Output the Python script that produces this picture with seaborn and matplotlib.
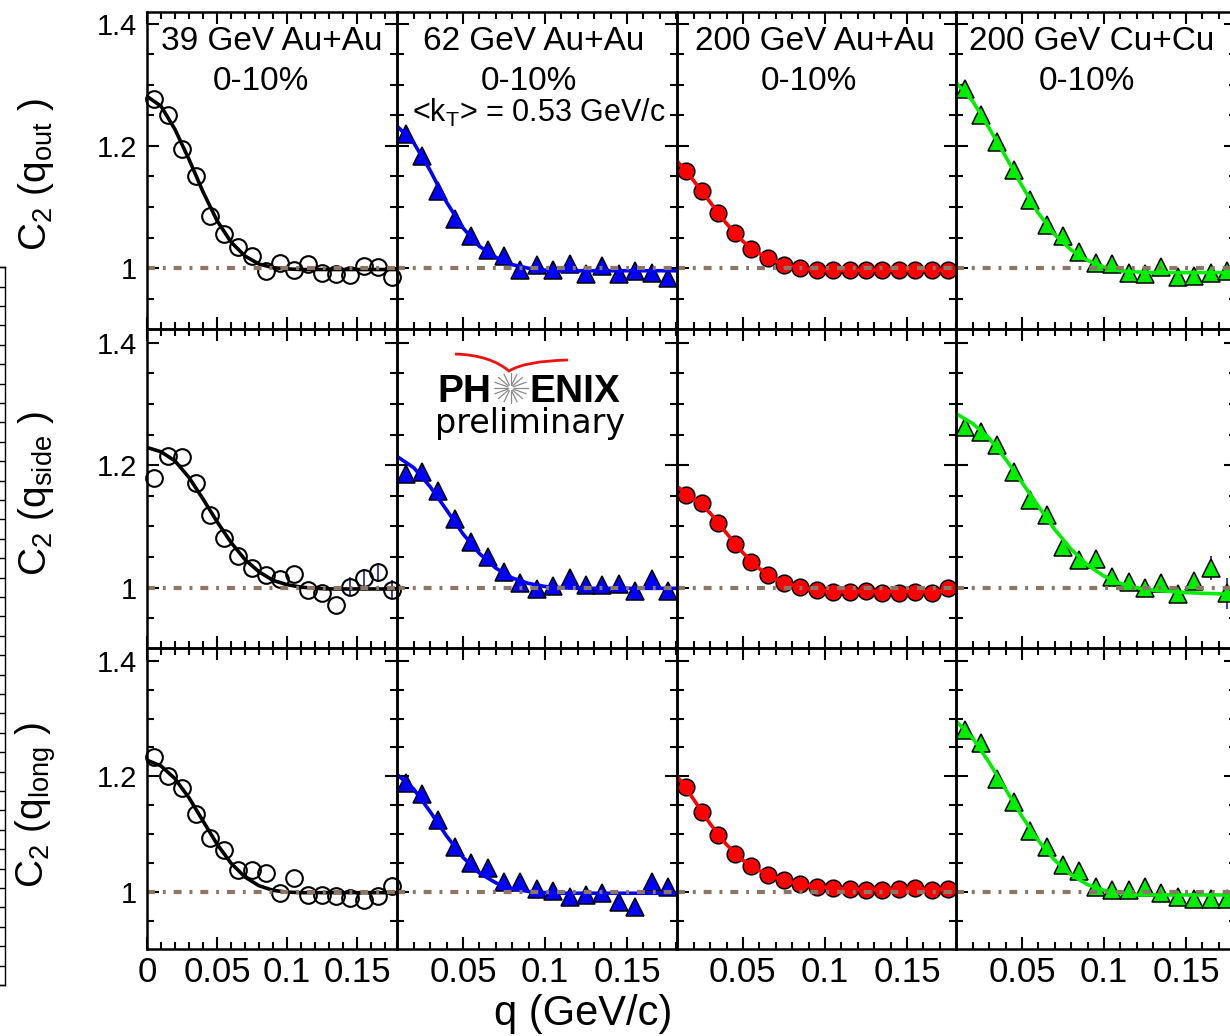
import numpy as np
import matplotlib
matplotlib.use("Agg")
import matplotlib.pyplot as plt
import seaborn as sns
from matplotlib.ticker import MultipleLocator, FuncFormatter
from matplotlib.lines import Line2D
from matplotlib.path import Path
from matplotlib.patches import PathPatch

sns.set_theme(style="white")
plt.rcParams['font.family'] = ['Liberation Sans', 'DejaVu Sans']
plt.rcParams['mathtext.fontset'] = 'custom'
plt.rcParams['mathtext.rm'] = 'Liberation Sans'
plt.rcParams['mathtext.it'] = 'Liberation Sans:italic'
plt.rcParams['mathtext.bf'] = 'Liberation Sans:bold'
plt.rcParams['text.color'] = 'black'

# ---------------- data ----------------
systems = ["39 GeV Au+Au", "62 GeV Au+Au", "200 GeV Au+Au", "200 GeV Cu+Cu"]
centrality = "0-10%"
kt_label = r"<k$_{\mathrm{T}}$> = 0.53 GeV/c"
components = ["out", "side", "long"]

q_39 = [0.005, 0.015, 0.025, 0.035, 0.045, 0.055, 0.065, 0.075, 0.085,
        0.095, 0.105, 0.115, 0.125, 0.135, 0.145, 0.155, 0.165, 0.175]
q_other = [0.015, 0.025, 0.035, 0.045, 0.055, 0.065, 0.075, 0.085,
           0.095, 0.105, 0.115, 0.125, 0.135, 0.145, 0.155, 0.165, 0.175]
qfit_39 = [0.0, 0.01, 0.02, 0.03, 0.04, 0.05, 0.06, 0.07, 0.08, 0.09,
           0.10, 0.11, 0.12, 0.13, 0.14, 0.15, 0.16, 0.17, 0.18]
qfit_other = [0.01, 0.02, 0.03, 0.04, 0.05, 0.06, 0.07, 0.08, 0.09,
              0.10, 0.11, 0.12, 0.13, 0.14, 0.15, 0.16, 0.17, 0.18]

# 39 GeV Au+Au
c39_out = [1.277, 1.251, 1.195, 1.151, 1.086, 1.056, 1.034, 1.020, 0.995,
           1.009, 0.998, 1.007, 0.993, 0.991, 0.989, 1.003, 1.002, 0.986]
c39_side = [1.179, 1.215, 1.214, 1.171, 1.119, 1.081, 1.052, 1.032, 1.021,
            1.015, 1.022, 0.997, 0.992, 0.971, 1.002, 1.016, 1.025, 0.997]
c39_long = [1.233, 1.201, 1.180, 1.135, 1.094, 1.073, 1.039, 1.039, 1.033,
            0.998, 1.025, 0.995, 0.995, 0.993, 0.990, 0.987, 0.994, 1.010]
fit39_out = [1.281, 1.265, 1.227, 1.178, 1.125, 1.078, 1.043, 1.020, 1.007, 1.001,
             0.999, 0.998, 0.998, 0.998, 0.998, 0.998, 0.998, 0.998, 0.998]
fit39_side = [1.229, 1.222, 1.207, 1.180, 1.145, 1.108, 1.074, 1.046, 1.026, 1.012,
              1.005, 1.001, 0.999, 0.998, 0.998, 0.998, 0.998, 0.998, 0.998]
fit39_long = [1.228, 1.218, 1.196, 1.163, 1.123, 1.083, 1.050, 1.026, 1.011, 1.003,
              1.000, 0.999, 0.999, 0.999, 0.999, 0.999, 0.999, 0.999, 0.999]
err39_side = [0, 0, 0, 0, 0, 0, 0, 0, 0, 0, 0, 0, 0, 0, 0.015, 0.015, 0.016, 0.016]

# 62 GeV Au+Au
c62_out = [1.219, 1.183, 1.127, 1.081, 1.052, 1.030, 1.020, 0.998, 1.005,
           0.998, 1.007, 0.990, 1.003, 0.991, 0.996, 0.993, 0.984]
c62_side = [1.186, 1.189, 1.158, 1.112, 1.075, 1.050, 1.026, 1.008, 0.998,
            1.003, 1.016, 1.005, 1.005, 1.006, 0.995, 1.015, 0.994]
c62_long = [1.189, 1.169, 1.124, 1.078, 1.051, 1.041, 1.017, 1.017, 1.006,
            1.001, 0.991, 0.995, 0.999, 0.983, 0.974, 1.017, 1.009]
fit62_out = [1.232, 1.205, 1.160, 1.108, 1.066, 1.036, 1.018, 1.006, 1.000,
             0.997, 0.996, 0.996, 0.996, 0.996, 0.996, 0.996, 0.996, 0.996]
fit62_side = [1.214, 1.196, 1.165, 1.127, 1.088, 1.056, 1.032, 1.016, 1.007,
              1.002, 1.000, 0.999, 0.999, 0.999, 0.999, 0.999, 0.999, 0.999]
fit62_long = [1.203, 1.178, 1.139, 1.097, 1.060, 1.033, 1.016, 1.006, 1.001,
              0.999, 0.998, 0.998, 0.998, 0.998, 0.998, 0.998, 0.998, 0.998]

# 200 GeV Au+Au
c200_out = [1.159, 1.127, 1.090, 1.058, 1.031, 1.017, 1.005, 1.000, 0.998,
            0.997, 0.997, 0.997, 0.997, 0.997, 0.997, 0.997, 0.997]
c200_side = [1.151, 1.138, 1.106, 1.072, 1.042, 1.021, 1.008, 1.002, 0.996,
             0.993, 0.993, 0.995, 0.992, 0.992, 0.993, 0.992, 0.999]
c200_long = [1.181, 1.139, 1.099, 1.066, 1.045, 1.030, 1.021, 1.014, 1.009,
             1.007, 1.005, 1.004, 1.004, 1.005, 1.007, 1.004, 1.006]
fit200_out = [1.175, 1.143, 1.108, 1.073, 1.044, 1.024, 1.011, 1.003, 0.999,
              0.997, 0.997, 0.997, 0.997, 0.997, 0.997, 0.997, 0.997, 0.997]
fit200_side = [1.165, 1.145, 1.122, 1.089, 1.057, 1.031, 1.014, 1.004, 0.998,
               0.995, 0.994, 0.994, 0.994, 0.994, 0.994, 0.994, 0.994, 0.994]
fit200_long = [1.200, 1.160, 1.118, 1.082, 1.055, 1.037, 1.025, 1.017, 1.011,
               1.008, 1.006, 1.005, 1.005, 1.005, 1.005, 1.005, 1.005, 1.005]

# 200 GeV Cu+Cu
cu_out = [1.293, 1.251, 1.206, 1.160, 1.111, 1.071, 1.053, 1.027, 1.008,
          1.007, 0.993, 0.991, 1.002, 0.985, 0.987, 0.993, 0.995]
cu_side = [1.263, 1.255, 1.233, 1.189, 1.143, 1.118, 1.066, 1.046, 1.047,
           1.017, 1.010, 0.999, 1.007, 0.990, 1.011, 1.032, 0.991]
cu_long = [1.281, 1.258, 1.195, 1.155, 1.105, 1.078, 1.047, 1.036, 1.009,
           1.003, 1.003, 1.009, 0.999, 0.991, 0.988, 0.988, 0.988]
fitcu_out = [1.303, 1.273, 1.229, 1.183, 1.135, 1.090, 1.055, 1.030, 1.013,
             1.002, 0.996, 0.994, 0.993, 0.993, 0.993, 0.993, 0.993, 0.993]
fitcu_side = [1.284, 1.268, 1.244, 1.210, 1.172, 1.133, 1.095, 1.063, 1.037,
              1.019, 1.007, 1.000, 0.996, 0.994, 0.992, 0.991, 0.990, 0.989]
fitcu_long = [1.295, 1.266, 1.224, 1.178, 1.131, 1.089, 1.055, 1.030, 1.013,
              1.003, 0.998, 0.995, 0.995, 0.995, 0.995, 0.995, 0.995, 0.995]
errcu_side = [0, 0, 0, 0, 0, 0, 0, 0, 0, 0, 0, 0, 0, 0, 0, 0.02, 0.025]

q_data = [q_39, q_other, q_other, q_other]
q_fits = [qfit_39, qfit_other, qfit_other, qfit_other]
values = [[c39_out, c62_out, c200_out, cu_out],
          [c39_side, c62_side, c200_side, cu_side],
          [c39_long, c62_long, c200_long, cu_long]]
fits = [[fit39_out, fit62_out, fit200_out, fitcu_out],
        [fit39_side, fit62_side, fit200_side, fitcu_side],
        [fit39_long, fit62_long, fit200_long, fitcu_long]]
errors = {(1, 0): err39_side, (1, 3): errcu_side}

# ---------------- styles / layout ----------------
W, H = 1230, 1036
styles = [
    dict(marker='o', ms=12, mfc='none', mec='black', mew=1.5, line='black'),
    dict(marker='^', ms=12.5, mfc='#0000ff', mec='black', mew=1.1, line='#0000ff'),
    dict(marker='o', ms=12, mfc='#ff0000', mec='black', mew=1.1, line='#ff0000'),
    dict(marker='^', ms=12.5, mfc='#00ee00', mec='black', mew=1.1, line='#00ee00'),
]
col_px = [(147, 397), (397, 677), (677, 956), (956, 1236)]
row_px = [(12, 329), (329, 648), (648, 949)]
xlims = [(0.0, 0.1786), (0.0098, 0.1805), (0.0098, 0.1799), (0.0098, 0.1805)]
ylims = [(0.9008, 1.4188), (0.9016, 1.4224), (0.9016, 1.4219)]
ref_color = '#8c7666'

fig = plt.figure(figsize=(W / 100, H / 100), dpi=100)
fig.patch.set_facecolor('white')


def fpos(x0, y0, x1, y1):
    return [x0 / W, 1 - y1 / H, (x1 - x0) / W, (y1 - y0) / H]


def fp(x, y):
    return (x / W, 1 - y / H)


fmt = FuncFormatter(lambda v, p: f"{v:g}")

# partial neighbouring frame at the very left edge (crop artifact)
ax0 = fig.add_axes(fpos(-100, 267, 5, 985))
ax0.set_facecolor('none')
ax0.set_xlim(0, 1)
ax0.set_ylim(0, 718)
ax0.spines['left'].set_visible(False)
for s in ['right', 'top', 'bottom']:
    ax0.spines[s].set_linewidth(1.0)
    ax0.spines[s].set_color('black')
ax0.set_xticks([])
ax0.yaxis.set_major_locator(MultipleLocator(19.4))
ax0.tick_params(axis='y', which='both', direction='in', left=False, right=True,
                labelleft=False, labelright=False, length=4, width=1.0, color='black')

for r in range(3):
    for c in range(4):
        ax = fig.add_axes(fpos(col_px[c][0], row_px[r][0], col_px[c][1], row_px[r][1]))
        ax.set_facecolor('none')
        st = styles[c]
        ax.axhline(1.0, color=ref_color, lw=3, ls=(0, (1.9, 1.9, 0.7, 1.9)), zorder=6)
        if (r, c) in errors:
            ax.errorbar(q_data[c], values[r][c], yerr=errors[(r, c)], fmt='none',
                        ecolor='#1a1aa0', elinewidth=1.2, capsize=0, zorder=2, clip_on=False)
        sns.lineplot(x=q_data[c], y=values[r][c], ax=ax, estimator=None, sort=False,
                     errorbar=None, marker=st['marker'], markersize=st['ms'],
                     markerfacecolor=st['mfc'], markeredgecolor=st['mec'],
                     markeredgewidth=st['mew'], linestyle='none', color=st['mec'],
                     clip_on=False, zorder=3)
        sns.lineplot(x=q_fits[c], y=fits[r][c], ax=ax, estimator=None, sort=False,
                     errorbar=None, color=st['line'], lw=2.6, zorder=4)
        ax.set_xlim(*xlims[c])
        ax.set_ylim(*ylims[r])
        ax.set_xlabel('')
        ax.set_ylabel('')
        ax.grid(False)
        for s in ax.spines.values():
            s.set_linewidth(1.8)
            s.set_color('black')
            s.set_zorder(7)
        ax.xaxis.set_major_locator(MultipleLocator(0.05))
        ax.xaxis.set_minor_locator(MultipleLocator(0.01))
        ax.yaxis.set_major_locator(MultipleLocator(0.2))
        ax.yaxis.set_minor_locator(MultipleLocator(0.05))
        ax.xaxis.set_major_formatter(fmt)
        ax.yaxis.set_major_formatter(fmt)
        ax.tick_params(which='both', direction='in', top=True, right=True,
                       bottom=True, left=True, width=1.5, color='black',
                       labelcolor='black')
        ax.tick_params(which='major', length=8.5)
        ax.tick_params(which='minor', length=5)
        ax.tick_params(axis='x', labelsize=25, pad=5, labelbottom=(r == 2))
        ax.tick_params(axis='y', labelsize=21, pad=7, labelleft=(c == 0))

# panel titles
title_x = [272, 534, 815, 1092]
cent_x = [261, 529, 809, 1087]
for c in range(4):
    x, y = fp(title_x[c], 50)
    fig.text(x, y, systems[c], fontsize=24, ha='center', va='baseline')
    x, y = fp(cent_x[c], 90)
    fig.text(x, y, centrality, fontsize=24, ha='center', va='baseline')
x, y = fp(539, 122)
fig.text(x, y, kt_label, fontsize=22, ha='center', va='baseline')

# y labels
ylab_y = [175, 494, 805]
for r in range(3):
    x, y = fp(36, ylab_y[r])
    fig.text(x, y, r"C$_{2}$ (q$_{\mathrm{%s}}$ )" % components[r], fontsize=28,
             rotation=90, ha='center', va='center')

# x label
x, y = fp(583, 1025)
fig.text(x, y, "q (GeV/c)", fontsize=30, ha='center', va='baseline')

# PHENIX preliminary logo
x, y = fp(437, 402)
fig.text(x, y, "PH", fontsize=28, fontweight='bold', ha='left', va='baseline')
x, y = fp(529, 402)
fig.text(x, y, "ENIX", fontsize=28, fontweight='bold', ha='left', va='baseline')
x, y = fp(530, 433)
fig.text(x, y, "preliminary", fontsize=24, family='DejaVu Sans', ha='center', va='baseline')
cx, cy = 510.5, 388
for ang in np.linspace(0, 2 * np.pi, 16, endpoint=False):
    p1 = fp(cx + 3 * np.cos(ang), cy + 3 * np.sin(ang))
    p2 = fp(cx + 17 * np.cos(ang), cy + 15 * np.sin(ang))
    fig.add_artist(Line2D([p1[0], p2[0]], [p1[1], p2[1]], transform=fig.transFigure,
                          color='#8a8a8a', lw=0.9))
verts = [fp(455, 354), fp(490, 355), fp(509, 371), fp(525, 361), fp(568, 360)]
codes = [Path.MOVETO, Path.CURVE3, Path.CURVE3, Path.CURVE3, Path.CURVE3]
fig.add_artist(PathPatch(Path(verts, codes), transform=fig.transFigure,
                         fill=False, edgecolor='#ee1111', lw=2.0))

fig.savefig("out.png", dpi=100)
